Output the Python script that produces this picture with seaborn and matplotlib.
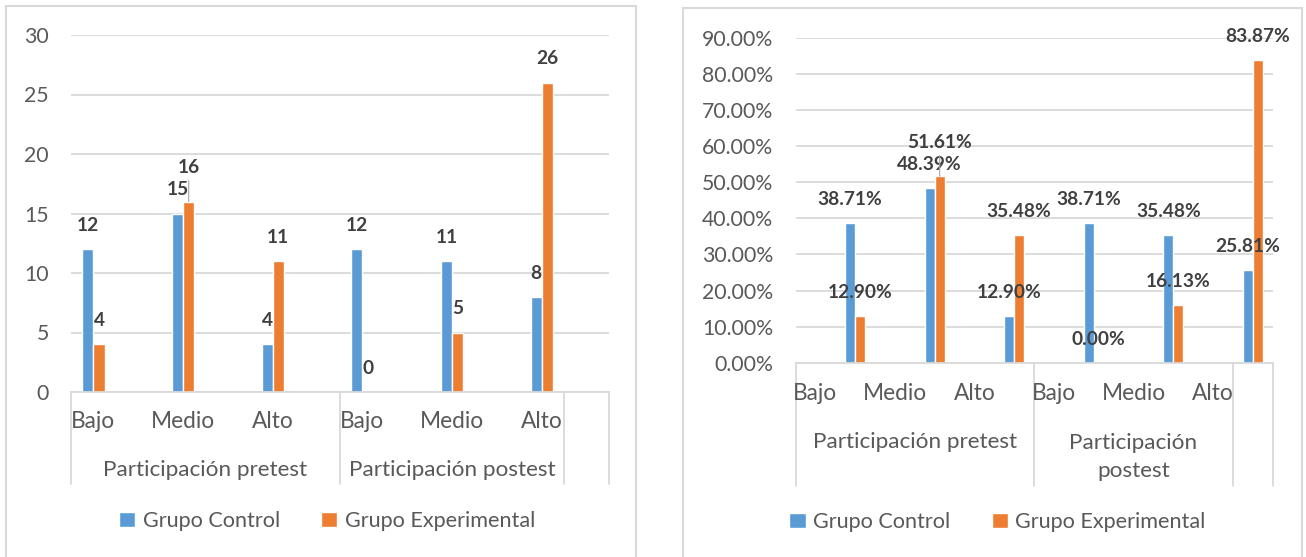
import numpy as np
import pandas as pd
import matplotlib.pyplot as plt
import seaborn as sns
from matplotlib.patches import Patch, Rectangle

# Datos
niveles = ["Bajo", "Medio", "Alto"]
momentos = ["Participación pretest", "Participación postest"]
grupos = ["Grupo Control", "Grupo Experimental"]

control_n = [12, 15, 4, 12, 11, 8]
experimental_n = [4, 16, 11, 0, 5, 26]

control_pct = [0.3871, 0.4839, 0.1290, 0.3871, 0.3548, 0.2581]
experimental_pct = [0.1290, 0.5161, 0.3548, 0.0000, 0.1613, 0.8387]

BLUE = "#5B9BD5"
ORANGE = "#ED7D31"
GRID = "#D9D9D9"
TXT = "#595959"
LBL = "#404040"

W, H = 1306, 557

sns.set_theme(style="white")
plt.rcParams['font.family'] = ['Lato', 'DejaVu Sans']

keys = [f"{m}|{n}" for m in momentos for n in niveles]


def make_df(control, experimental):
    return pd.DataFrame({
        "cat": keys * 2,
        "grupo": [grupos[0]] * len(keys) + [grupos[1]] * len(keys),
        "valor": list(control) + list(experimental),
    })


def px_axes(x0, x1, y0, y1):
    # pixel box (top-left origin) -> figure fraction
    return [x0 / W, 1 - y1 / H, (x1 - x0) / W, (y1 - y0) / H]


def draw_panel(ax, df, ymax, yticks, fmt, xlim, label_pos, seps, tick_y, group_y,
               sep_y, leader_idx):
    sns.barplot(data=df, x="cat", y="valor", hue="grupo", order=keys,
                hue_order=grupos, palette=[BLUE, ORANGE], width=0.25,
                saturation=1, edgecolor="white", linewidth=1, ax=ax, legend=False)
    ax.set_xlim(*xlim)
    ax.set_ylim(0, ymax)
    ax.set_yticks(yticks)
    ax.set_yticklabels([fmt(v) for v in yticks], color=TXT, fontsize=15.3)
    ax.tick_params(axis="y", length=0, pad=16)
    ax.set_xticks([])
    ax.set_xlabel("")
    ax.set_ylabel("")
    ax.grid(axis="y", color=GRID, lw=1.3)
    ax.set_axisbelow(True)
    for s in ["top", "right", "left"]:
        ax.spines[s].set_visible(False)
    ax.spines["bottom"].set_color(GRID)
    ax.spines["bottom"].set_linewidth(1.3)

    # data labels
    for hi, cont in enumerate(ax.containers):
        for i, bar in enumerate(cont):
            v = bar.get_height()
            x = bar.get_x() + bar.get_width() / 2
            if (hi, i) == leader_idx:
                ax.annotate(fmt(v), (x, v), xytext=(0, 24.5), textcoords="offset points",
                            ha="center", va="center", fontsize=13.8, fontweight="bold",
                            color=LBL, arrowprops=dict(arrowstyle="-", color="#A6A6A6",
                                                       lw=0.8, shrinkA=1, shrinkB=0))
            else:
                ax.annotate(fmt(v), (x, v), xytext=(0, 17), textcoords="offset points",
                            ha="center", va="center", fontsize=13.8, fontweight="bold",
                            color=LBL)

    tr = ax.get_xaxis_transform()
    for x, name in zip(label_pos, niveles * 2):
        ax.text(x, tick_y, name, transform=tr, ha="center", va="center",
                fontsize=16.3, color=TXT)
    for x in seps:
        ax.plot([x, x], [0, sep_y], transform=tr, color=GRID, lw=1.3, clip_on=False)
    for (x, y, txt) in group_y:
        ax.text(x, y, txt, transform=tr, ha="center", va="center", fontsize=16.2,
                color=TXT, linespacing=1.45)


fig = plt.figure(figsize=(W / 100, H / 100), dpi=100)
fig.patch.set_facecolor("white")

# borders of each chart area
fig.add_artist(Rectangle((6 / W, -0.02), 630 / W, 1.02 - 6 / H, transform=fig.transFigure,
                         fill=False, edgecolor=GRID, lw=1.5))
fig.add_artist(Rectangle((683 / W, -0.02), 619 / W, 1.02 - 8 / H, transform=fig.transFigure,
                         fill=False, edgecolor=GRID, lw=1.5))

# left: counts
ax1 = fig.add_axes(px_axes(71, 609, 35, 392))
draw_panel(ax1, make_df(control_n, experimental_n), 30, [0, 5, 10, 15, 20, 25, 30],
           lambda v: f"{v:.0f}", (-0.25, 5.75), np.arange(6),
           [-0.25, 2.75, 5.25, 5.75], (392 - 422) / 357,
           [(1.25, (392 - 470) / 357, momentos[0]), (4.0, (392 - 470) / 357, momentos[1])],
           (392 - 484) / 357, (1, 1))

# right: percentages
ax2 = fig.add_axes(px_axes(795.5, 1272.7, 37.5, 363))
draw_panel(ax2, make_df(control_pct, experimental_pct), 0.9, np.arange(0, 0.91, 0.1),
           lambda v: f"{v * 100:.2f}%", (-0.75, 5.25), np.arange(6) - 0.5,
           [-0.75, 2.25, 4.75, 5.25], (363 - 393) / 325.5,
           [(0.75, (363 - 442) / 325.5, momentos[0]),
            (3.5, (363 - 457) / 325.5, "Participación\npostest")],
           (363 - 486) / 325.5, (1, 1))

handles = [Patch(facecolor=BLUE), Patch(facecolor=ORANGE)]
for cx, cy in [(327, 521), (997.5, 522)]:
    fig.legend(handles, grupos, loc="center", bbox_to_anchor=(cx / W, 1 - cy / H), ncol=2,
               frameon=False, handlelength=0.75, handleheight=0.75, handletextpad=0.35,
               columnspacing=1.9, fontsize=15.6, labelcolor=TXT)

fig.savefig("out.png", dpi=100)
